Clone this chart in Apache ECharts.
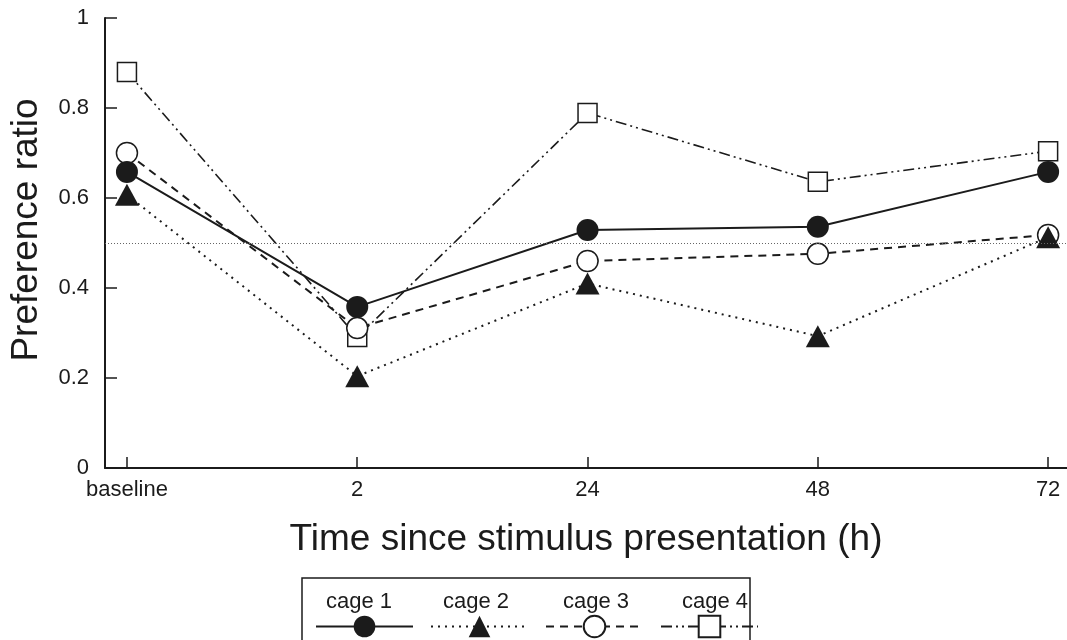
<!DOCTYPE html>
<html>
<head>
<meta charset="utf-8">
<script src="https://cdn.jsdelivr.net/npm/echarts@6/dist/echarts.min.js"></script>
<style>
html,body{margin:0;padding:0;background:#fff;}
#chart{width:1067px;height:640px;}
</style>
</head>
<body>
<div id="chart"></div>
<script>
const categories = ['baseline', '2', '24', '48', '72'];
const cage1 = [0.658, 0.358, 0.529, 0.536, 0.658];
const cage2 = [0.607, 0.204, 0.41, 0.293, 0.513];
const cage3 = [0.70, 0.311, 0.46, 0.476, 0.518];
const cage4 = [0.88, 0.291, 0.789, 0.636, 0.704];
const yTicks = [0, 0.2, 0.4, 0.6, 0.8, 1];
const seriesNames = ['cage 1', 'cage 2', 'cage 3', 'cage 4'];
const refValue = 0.5;

const FONT = 'Liberation Sans, Arial, sans-serif';
const INK = '#1b1b1b';

function pairs(arr) { return arr.map((v, i) => [i, v]); }

const chart = echarts.init(document.getElementById('chart'), null, {renderer: 'canvas'});

const legendCenters = [359, 476, 596, 715];
const legendTexts = seriesNames.map((n, i) => ({
  type: 'text',
  x: legendCenters[i],
  y: 602,
  style: {text: n, font: '22px ' + FONT, fill: INK, align: 'center', verticalAlign: 'middle'}
}));

chart.setOption({
  animation: false,
  backgroundColor: '#fff',
  grid: {left: 103, right: 0, top: 18, bottom: 172, containLabel: false},
  xAxis: {
    type: 'value',
    min: -0.0953,
    max: 4.082,
    name: 'Time since stimulus presentation (h)',
    nameLocation: 'middle',
    nameGap: 53,
    nameTextStyle: {fontFamily: FONT, fontSize: 37, color: INK},
    axisLine: {show: true, onZero: false, lineStyle: {color: INK, width: 2}},
    axisTick: {show: true, inside: true, length: 11, customValues: [0, 1, 2, 3, 4], lineStyle: {color: INK, width: 1.5}},
    axisLabel: {customValues: [0, 1, 2, 3, 4], formatter: v => categories[Math.round(v)], fontFamily: FONT, fontSize: 22, color: INK, margin: 11},
    splitLine: {show: false}
  },
  yAxis: {
    type: 'value',
    min: 0,
    max: 1,
    interval: 0.2,
    name: 'Preference ratio',
    nameLocation: 'middle',
    nameGap: 60,
    nameTextStyle: {fontFamily: FONT, fontSize: 37, color: INK, padding: [0, 0, 0, 26]},
    axisLine: {show: true, onZero: false, lineStyle: {color: INK, width: 2}},
    axisTick: {show: true, inside: true, length: 12, lineStyle: {color: INK, width: 1.5}},
    axisLabel: {fontFamily: FONT, fontSize: 22, color: INK, margin: 16, formatter: v => String(Math.round(v * 10) / 10)},
    splitLine: {show: false}
  },
  legend: {
    data: seriesNames,
    left: 310,
    top: 608,
    orient: 'horizontal',
    itemWidth: 97,
    itemHeight: 27,
    itemGap: 16,
    formatter: () => '',
    textStyle: {fontSize: 1},
    selectedMode: false
  },
  graphic: [
    {type: 'rect', shape: {x: 302, y: 578, width: 448, height: 80}, style: {fill: 'none', stroke: INK, lineWidth: 1.5}, z: 0}
  ].concat(legendTexts),
  series: [
    {
      name: 'cage 4', type: 'line', data: pairs(cage4),
      symbol: 'rect', symbolSize: 19, showSymbol: true,
      lineStyle: {color: INK, width: 1.6, type: [11, 4, 2, 4, 2, 4]},
      itemStyle: {color: '#fff', borderColor: INK, borderWidth: 1.5}
    },
    {
      name: 'cage 3', type: 'line', data: pairs(cage3),
      symbol: 'circle', symbolSize: 21,
      lineStyle: {color: INK, width: 2, type: [8, 6]},
      itemStyle: {color: '#fff', borderColor: INK, borderWidth: 1.5}
    },
    {
      name: 'cage 1', type: 'line', data: pairs(cage1),
      symbol: 'circle', symbolSize: 22,
      lineStyle: {color: INK, width: 2, type: 'solid'},
      itemStyle: {color: INK, borderColor: INK, borderWidth: 0},
      markLine: {
        silent: true, symbol: 'none', label: {show: false},
        lineStyle: {color: '#666', width: 1, type: [1, 2]},
        data: [{yAxis: refValue}]
      }
    },
    {
      name: 'cage 2', type: 'line', data: pairs(cage2),
      symbol: 'triangle', symbolSize: [24, 22],
      lineStyle: {color: INK, width: 2, type: [2, 5]},
      itemStyle: {color: INK, borderColor: INK, borderWidth: 0}
    }
  ]
});
</script>
</body>
</html>
